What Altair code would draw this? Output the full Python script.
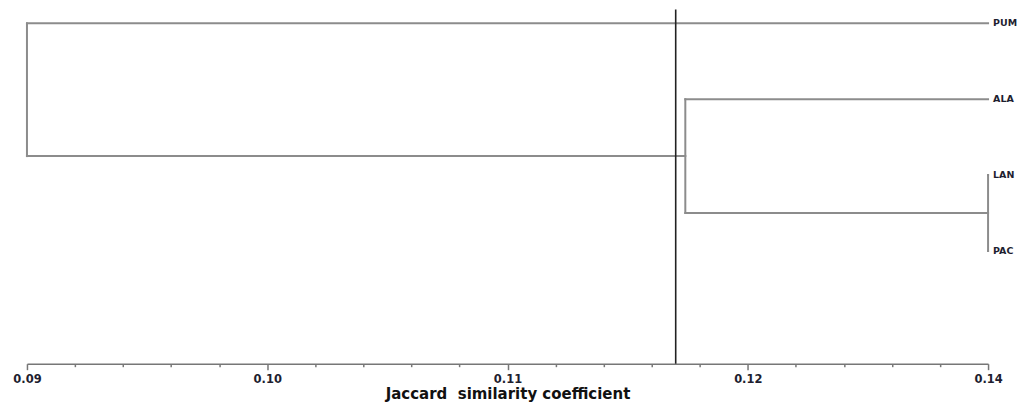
import altair as alt
import pandas as pd

# ---- data ----
leaves = ["PUM", "ALA", "LAN", "PAC"]
leaf_sim = 0.13
merge_a = ["LAN", "ALA", "PUM"]
merge_b = ["PAC", "N1", "N2"]
merge_sim = [0.13, 0.1174, 0.09]
cutoff = 0.117
tick_values = [0.09, 0.10, 0.11, 0.12, 0.13]
tick_labels = ["0.09", "0.10", "0.11", "0.12", "0.14"]
axis_title = "Jaccard\u00a0 similarity coefficient"

# ---- build dendrogram segments ----
pos = {name: (leaf_sim, i) for i, name in enumerate(leaves)}
segs = []
for k, (a, b, h) in enumerate(zip(merge_a, merge_b, merge_sim)):
    xa, ya = pos[a]
    xb, yb = pos[b]
    segs.append(dict(x=h, x2=h, y=ya, y2=yb))
    segs.append(dict(x=h, x2=xa, y=ya, y2=ya))
    segs.append(dict(x=h, x2=xb, y=yb, y2=yb))
    pos[f"N{k+1}"] = (h, (ya + yb) / 2)
seg_df = pd.DataFrame(segs)
leaf_df = pd.DataFrame({"name": leaves, "x": [leaf_sim] * len(leaves),
                        "y": list(range(len(leaves)))})
cut_df = pd.DataFrame({"x": [cutoff]})

minor = [round(tick_values[0] + 0.002 * i, 3) for i in range(21)]
is_major = "abs(datum.value*100 - round(datum.value*100)) < 0.01"
label_expr = "''"
for v, t in zip(reversed(tick_values), reversed(tick_labels)):
    label_expr = f"abs(datum.value - {v}) < 0.0005 ? '{t}' : ({label_expr})"

FONT = "DejaVu Sans"
xscale = alt.Scale(domain=[0.09, 0.13], nice=False, zero=False)
yscale = alt.Scale(domain=[-0.184, 4.487], reverse=True, nice=False, zero=False)

xaxis = alt.Axis(
    values=minor, title=axis_title, grid=False,
    labelExpr=label_expr, labelOverlap=False, labelFlush=False,
    labelFont=FONT, labelFontSize=11.5, labelFontWeight="bold", labelColor="#1e1e30",
    labelPadding=4,
    tickSize={"condition": {"test": is_major, "value": 6}, "value": 3},
    tickColor="#777777", tickWidth=1.5,
    domainColor="#777777", domainWidth=1.5,
    titleFont=FONT, titleFontSize=15, titleFontWeight="bold", titleColor="#111111",
    titlePadding=1)

tree = alt.Chart(seg_df).mark_rule(color="#8c8c8c", strokeWidth=2, strokeCap="square").encode(
    x=alt.X("x:Q", scale=xscale, axis=xaxis),
    x2="x2:Q",
    y=alt.Y("y:Q", scale=yscale, axis=None),
    y2="y2:Q",
)

cut = alt.Chart(cut_df).mark_rule(color="#222222", strokeWidth=1.6).encode(
    x=alt.X("x:Q", scale=xscale, axis=xaxis),
)

labels = alt.Chart(leaf_df).mark_text(
    align="left", baseline="middle", dx=5, font=FONT, fontSize=9.5,
    fontWeight="bold", color="#1e1e30"
).encode(
    x=alt.X("x:Q", scale=xscale, axis=xaxis),
    y=alt.Y("y:Q", scale=yscale, axis=None),
    text="name:N",
)

chart = alt.layer(tree, cut, labels).properties(
    width=963, height=355,
    background="white",
    autosize=alt.AutoSizeParams(type="none"),
    padding={"left": 19, "top": 1, "right": 30, "bottom": 42},
).configure_view(stroke=None)

chart.save("out.html", embed_options={"renderer": "svg", "actions": False})
